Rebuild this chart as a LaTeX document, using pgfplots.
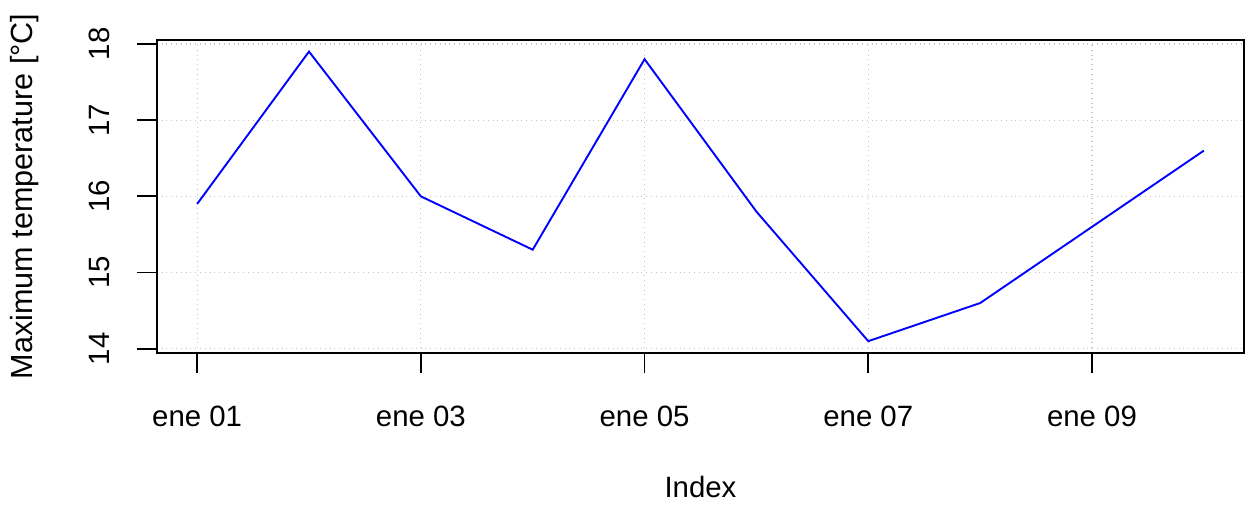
\documentclass[border=0pt]{standalone}
\usepackage{pgfplots}
\pgfplotsset{compat=1.18}
\usepackage{fontspec}
\setmainfont{Liberation Sans}
\begin{document}
\begin{tikzpicture}
	\begin{axis}[
		name=main,
		scale only axis,
		width=544pt, height=156.5pt,
		xmin=0.64, xmax=10.36,
		ymin=13.948, ymax=18.052,
		axis line style={line width=0.9pt},
		tick style={line width=0.9pt, black},
		tick align=outside,
		tick pos=left,
		major tick length=10pt,
		xtick={1,3,5,7,9},
		xticklabels={ene 01,ene 03,ene 05,ene 07,ene 09},
		ytick={14,15,16,17,18},
		/pgf/number format/assume math mode=true,
		yticklabel style={rotate=90, anchor=south, yshift=10pt},
		ylabel={Maximum temperature [°C]},
		xlabel={Index},
		font=\fontsize{14.7}{17}\selectfont,
		ticklabel style={font=\fontsize{14.7}{17}\selectfont},
		ylabel style={font=\fontsize{15.3}{17}\selectfont},
		grid=major,
		major grid style={gray!45, dotted, line width=0.6pt},
		ylabel style={at={(rel axis cs:0,0.5)}, anchor=center, yshift=66pt},
		xlabel style={at={(rel axis cs:0.5,0)}, anchor=center, yshift=-67pt},
		xticklabel style={anchor=center, yshift=-22pt},
		]
		\addplot[blue, line width=0.95pt, mark=none] coordinates {
			(1,15.9) (2,17.9) (3,16.0) (4,15.3) (5,17.8)
			(6,15.8) (7,14.1) (8,14.6) (9,15.6) (10,16.6)};
	\end{axis}
	\path (main.south west) ++(-78.5pt,-74.5pt) rectangle ([yshift=20pt]main.north east);
\end{tikzpicture}
\end{document}
